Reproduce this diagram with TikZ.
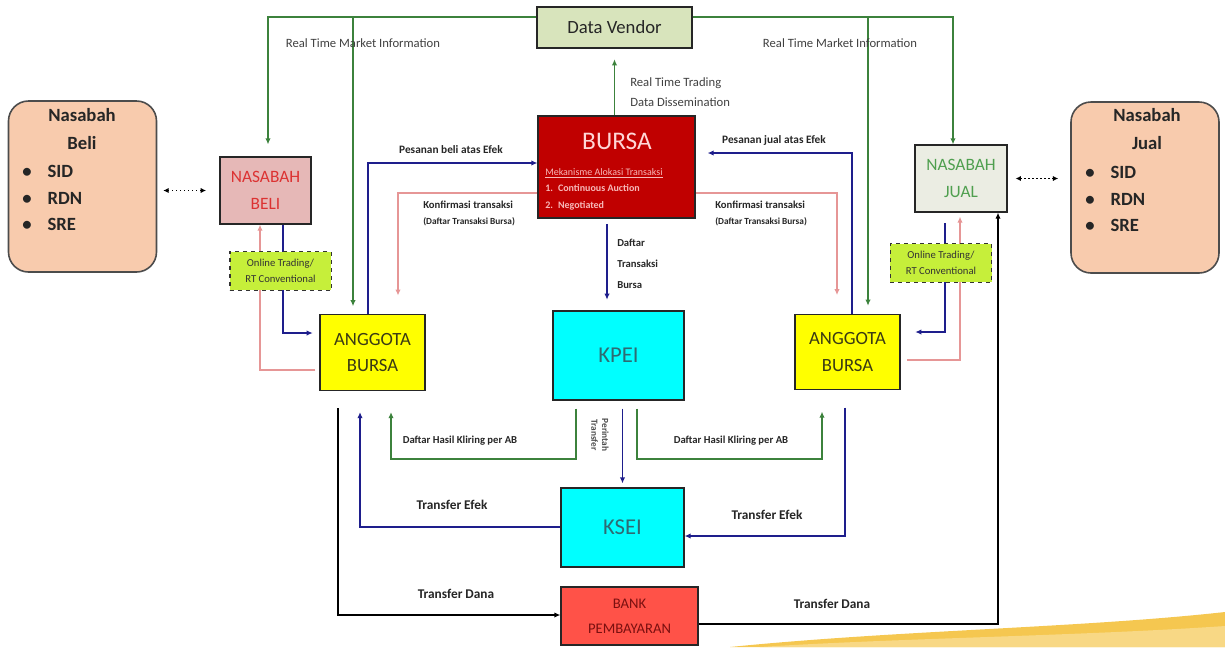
\documentclass[tikz,border=0pt]{standalone}
\usepackage{fontspec}
\setmainfont{Carlito}
\usetikzlibrary{calc,arrows.meta,backgrounds}
\definecolor{dvFill}{HTML}{D8E4BC}
\definecolor{bursaRed}{HTML}{C00000}
\definecolor{bursaTxt}{HTML}{FFD6D6}
\definecolor{bursaTxtB}{HTML}{F7B8B8}
\definecolor{peach}{HTML}{F8CBAD}
\definecolor{nbFill}{HTML}{E6B8B7}
\definecolor{nbTxt}{HTML}{DC3232}
\definecolor{njFill}{HTML}{EBEDE3}
\definecolor{njTxt}{HTML}{4F9F4F}
\definecolor{otFill}{HTML}{C6EF3A}
\definecolor{abFill}{HTML}{FFFF00}
\definecolor{abTxt}{HTML}{3A3A14}
\definecolor{cyanFill}{HTML}{00FFFF}
\definecolor{cyanTxt}{HTML}{2E6B73}
\definecolor{bankFill}{HTML}{FF5248}
\definecolor{bankTxt}{HTML}{7A1010}
\definecolor{lnGreen}{HTML}{3C823C}
\definecolor{lnBlue}{HTML}{1E1E8C}
\definecolor{lnPink}{HTML}{E69696}
\definecolor{swoosh}{HTML}{F5C750}
\begin{document}
\begin{tikzpicture}[x=0.75pt,y=-0.75pt,
  box/.style={draw=black!85,line width=0.9pt,align=center,inner sep=1pt},
  arr/.style={-{Latex[length=4.5pt,width=4pt]}},
  darr/.style={{Latex[length=4pt,width=4pt]}-{Latex[length=4pt,width=4pt]},dotted,line width=1pt,draw=black},
  gline/.style={draw=lnGreen,line width=1.4pt},
  bline/.style={draw=lnBlue,line width=1.4pt},
  pline/.style={draw=lnPink,line width=1.4pt},
  kline/.style={draw=black,line width=1.4pt},
  lbl/.style={font=\fontsize{8}{9.5}\selectfont\bfseries,text=black!85,inner sep=0pt,align=center},
  big/.style={font=\fontsize{10}{12}\selectfont\bfseries,text=black!85,inner sep=0pt},
  rtm/.style={font=\fontsize{9.5}{15}\selectfont,text=black!75,inner sep=0pt,align=left},
  nasx/.style={box,rounded corners=15pt,fill=peach,draw=black!70,line width=1.2pt,minimum width=111pt,minimum height=128.25pt},
  nastxt/.style={font=\fontsize{14}{16}\selectfont\bfseries,text=black!85,inner sep=0pt},
  bullets/.style={font=\fontsize{14}{20}\selectfont\bfseries,text=black!85,inner sep=0pt,align=left},
  otbox/.style={box,fill=otFill,dashed,line width=1pt,draw=black!80,minimum width=76pt,minimum height=29pt,font=\fontsize{8}{12}\selectfont,text=black!80},
  abbox/.style={box,fill=abFill,minimum width=78.75pt,minimum height=56.5pt,font=\fontsize{14}{20}\selectfont,text=abTxt},
  cybox/.style={box,fill=cyanFill,font=\fontsize{17}{18}\selectfont,text=cyanTxt}
]
\useasboundingbox (0,0) rectangle (1225,647);

% ---------- nodes ----------
\node[box,fill=dvFill,minimum width=116.25pt,minimum height=30.75pt,font=\fontsize{14}{16}\selectfont,text=black!85] (DV) at (614.5,27.5) {Data Vendor};

\node[box,fill=bursaRed,minimum width=117.75pt,minimum height=76.5pt] (BURSA) at (616.5,167) {};
\node[text=bursaTxt,font=\fontsize{19}{20}\selectfont,inner sep=0pt] (BT) at (617,141) {BURSA};
\node[anchor=west,text=bursaTxtB,font=\fontsize{7.5}{12.4}\selectfont,align=left,inner sep=0pt] (BM) at (545,189) {\underline{Mekanisme Alokasi Transaksi}\\\textbf{1.\enspace Continuous Auction}\\\textbf{2.\enspace Negotiated}};

\node[nasx] (NBX) at (82.5,186.5) {};
\node[nastxt] (NBX1) at (82,115) {Nasabah};
\node[nastxt] (NBX2) at (82,143) {Beli};
\node[bullets,anchor=west] (NBX3) at (22,198) {\makebox[19pt][l]{\textbullet}SID\\\makebox[19pt][l]{\textbullet}RDN\\\makebox[19pt][l]{\textbullet}SRE};

\node[nasx] (NJX) at (1145,187.5) {};
\node[nastxt] (NJX1) at (1147,115) {Nasabah};
\node[nastxt] (NJX2) at (1147,143) {Jual};
\node[bullets,anchor=west] (NJX3) at (1085,199) {\makebox[19pt][l]{\textbullet}SID\\\makebox[19pt][l]{\textbullet}RDN\\\makebox[19pt][l]{\textbullet}SRE};

\node[box,fill=nbFill,minimum width=68.25pt,minimum height=50.25pt,font=\fontsize{13}{20}\selectfont,text=nbTxt] (NB) at (265.5,190.5) {NASABAH\\BELI};
\node[box,fill=njFill,minimum width=69pt,minimum height=50.25pt,font=\fontsize{13}{20}\selectfont,text=njTxt] (NJ) at (961,178.5) {NASABAH\\JUAL};

\node[otbox] (OTL) at (280.5,271) {Online Trading/\\RT Conventional};
\node[otbox] (OTR) at (941,263) {Online Trading/\\RT Conventional};

\node[abbox] (ABL) at (372.5,352.5) {ANGGOTA\\BURSA};
\node[abbox] (ABR) at (847.5,352) {ANGGOTA\\BURSA};

\node[cybox,minimum width=98.25pt,minimum height=66.75pt] (KPEI) at (618.5,355.5) {KPEI};
\node[cybox,minimum width=92.25pt,minimum height=59.25pt] (KSEI) at (622.5,527.5) {KSEI};
\node[box,fill=bankFill,minimum width=102.75pt,minimum height=43.5pt,font=\fontsize{11}{19}\selectfont,text=bankTxt] (BANK) at (629.5,616) {BANK\\PEMBAYARAN};

% ---------- labels ----------
\node[rtm] (L1) at (363,43) {Real Time Market Information};
\node[rtm] (L2) at (840,43) {Real Time Market Information};
\node[rtm,anchor=west] (L3) at (630,92) {Real Time Trading\\Data Dissemination};
\node[lbl,font=\fontsize{8.5}{10}\selectfont\bfseries] (L4) at (451,150) {Pesanan beli atas Efek};
\node[lbl,font=\fontsize{8.5}{10}\selectfont\bfseries] (L5) at (774,140) {Pesanan jual atas Efek};
\node[lbl,anchor=west,align=left,font=\fontsize{8}{12}\selectfont\bfseries] (L6) at (423,213) {Konfirmasi transaksi\\{\fontsize{7}{12}\selectfont(Daftar Transaksi Bursa)}};
\node[lbl,anchor=west,align=left,font=\fontsize{8}{12}\selectfont\bfseries] (L7) at (715,213) {Konfirmasi transaksi\\{\fontsize{7}{12}\selectfont(Daftar Transaksi Bursa)}};
\node[lbl,anchor=west,align=left,font=\fontsize{8}{15.75}\selectfont\bfseries] (L8) at (617,264) {Daftar\\Transaksi\\Bursa};
\node[lbl] (L9) at (460,441) {Daftar Hasil Kliring per AB};
\node[lbl] (L10) at (731,441) {Daftar Hasil Kliring per AB};
\node[lbl,rotate=-90,font=\fontsize{7}{8}\selectfont\bfseries,text=black!70] (L11) at (600,435) {Perintah\\Transfer};
\node[big] (L12) at (452,505) {Transfer Efek};
\node[big] (L13) at (767,515) {Transfer Efek};
\node[big] (L14) at (456,594) {Transfer Dana};
\node[big] (L15) at (832,604) {Transfer Dana};

% ---------- bend coordinates ----------
\coordinate (gL) at (268,17);
\coordinate (gLb) at (353,17);
\coordinate (gR) at (953,17);
\coordinate (gRb) at (868,17);
\coordinate (bB) at (368,163);
\coordinate (pB) at (398,193);
\coordinate (pR) at (837,193);
\coordinate (bJ) at (852,153);
\coordinate (bT) at (607,0);
\coordinate (bN) at (283,333);
\coordinate (pN) at (260,370);
\coordinate (bNJ) at (945,332);
\coordinate (pNJ) at (960,360);
\coordinate (kL) at (338,615);
\coordinate (tL) at (360,527);
\coordinate (hL1) at (576,459);
\coordinate (hL2) at (391,459);
\coordinate (hR1) at (637,459);
\coordinate (hR2) at (822,459);
\coordinate (tR) at (845,536);
\coordinate (kR) at (998,624);

% ---------- connectors ----------
\begin{scope}[on background layer]
\fill[swoosh] (730,647) .. controls (900,630) and (1080,628) .. (1225,612) -- (1225,647) -- cycle;
\fill[swoosh!70!white] (760,647) .. controls (900,638) and (1080,636) .. (1225,626) -- (1225,647) -- cycle;

\draw[gline,arr,shorten >=9pt] (DV.west |- gL) -- (gL) -- (gL |- NB.north);
\draw[gline,arr,shorten >=6pt] (gLb) -- (gLb |- ABL.north);
\draw[gline,arr] (DV.east |- gR) -- (gR) -- (gR |- NJ.north);
\draw[gline,arr,shorten >=6pt] (gRb) -- (gRb |- ABR.north);
\draw[gline,arr,shorten >=8pt] (BURSA.north -| DV.south) -- (DV.south);

\draw[bline,arr] (ABL.north -| bB) -- (bB) -- (bB -| BURSA.west);
\draw[pline,arr,shorten >=14pt] (BURSA.west |- pB) -- (pB) -- (pB |- ABL.north);
\draw[pline,arr,shorten >=14pt] (BURSA.east |- pR) -- (pR) -- (pR |- ABR.north);
\draw[bline,arr,shorten >=9pt] (ABR.north -| bJ) -- (bJ) -- (bJ -| BURSA.east);
\draw[bline,arr,shorten <=4pt,shorten >=8pt] (BURSA.south -| bT) -- (bT |- KPEI.north);

\draw[bline,arr,shorten >=5pt] (NB.south -| bN) -- (bN) -- (bN -| ABL.west);
\draw[pline,arr,shorten <=3pt] (ABL.west |- pN) -- (pN) -- (pN |- NB.south);
\draw[bline,arr,shorten <=8pt,shorten >=11pt] (NJ.south -| bNJ) -- (bNJ) -- (bNJ -| ABR.east);
\draw[pline,arr,shorten <=5pt,shorten >=3pt] (ABR.east |- pNJ) -- (pNJ) -- (pNJ |- NJ.south);

\draw[kline,arr,shorten <=13pt] (ABL.south -| kL) -- (kL) -- (kL -| BANK.west);
\draw[bline,arr,shorten >=16pt] (KSEI.west |- tL) -- (tL) -- (tL |- ABL.south);
\draw[gline,arr,shorten <=6pt,shorten >=16pt] (KPEI.south -| hL1) -- (hL1) -- (hL2) -- (hL2 |- ABL.south);
\draw[gline,arr,shorten <=6pt,shorten >=16pt] (KPEI.south -| hR1) -- (hR1) -- (hR2) -- (hR2 |- ABR.south);
\draw[bline,arr,shorten <=6pt,shorten >=3pt] (KSEI.north |- KPEI.south) -- (KSEI.north);
\draw[bline,arr,shorten <=13pt] (ABR.south -| tR) -- (tR) -- (tR -| KSEI.east);
\draw[kline,arr] (BANK.east |- kR) -- (kR) -- (kR |- NJ.south);

\draw[darr,shorten <=4.5pt,shorten >=10pt] (NBX.east |- NB.west) -- (NB.west);
\draw[darr,shorten <=6pt,shorten >=9pt] (NJ.east) -- (NJX.west |- NJ.east);
\end{scope}
\end{tikzpicture}
\end{document}
